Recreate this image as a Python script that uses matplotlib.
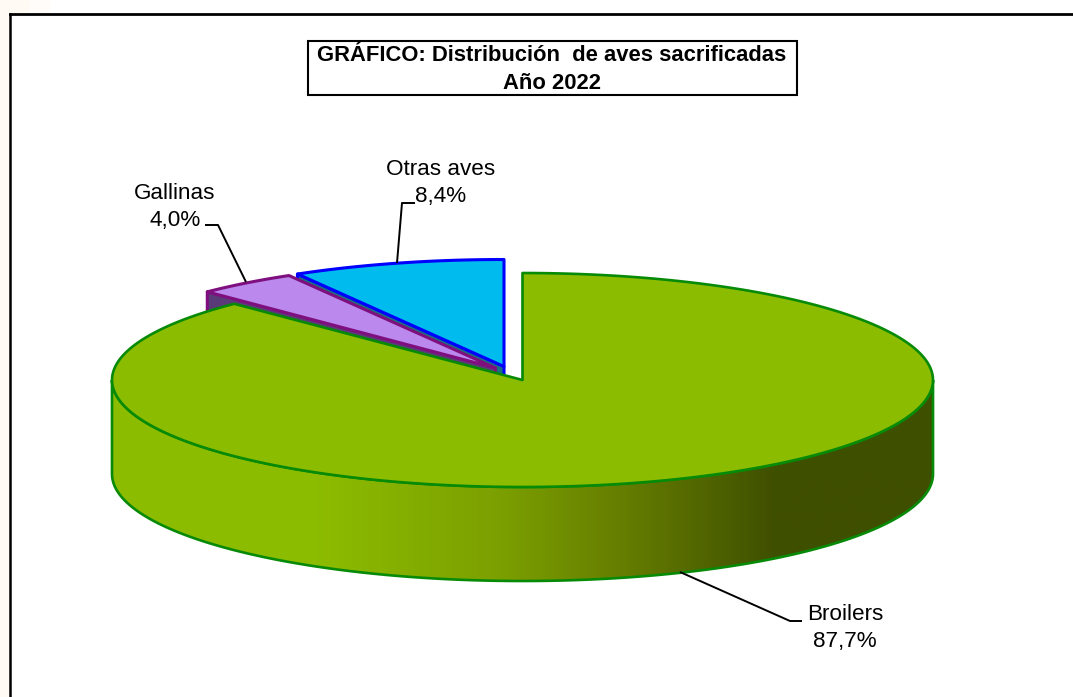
import numpy as np
import matplotlib
matplotlib.use("Agg")
import matplotlib.pyplot as plt
from matplotlib.colors import LinearSegmentedColormap
from matplotlib.patches import Polygon, Rectangle

plt.rcParams['font.family'] = ['Liberation Sans', 'DejaVu Sans']

categorias = ["Broilers", "Gallinas", "Otras aves"]
valores = [87.7, 4.0, 8.4]
etiquetas = ["87,7%", "4,0%", "8,4%"]

# pie geometry in pixels of the picture
rx, ry, prof = 410.5, 107, 94
centros = [(522.5, 380), (495.5, 368), (504, 366.5)]
tapas = ["#8CBC00", "#BB88EE", "#00BBEE"]
bordes = ["#078A07", "#7F0F7F", "#0000FF"]
lados = ["#3F4F00", "#5A3A78", "#1A6F80"]
anchos = [1.9, 2.2, 2.2]

# leader lines: label anchor, elbow, pie edge
lineas = {
    "Broilers": [(802, 621), (790, 621), (680, 572)],
    "Gallinas": [(205, 225), (218, 225), (246, 282)],
    "Otras aves": [(415, 203), (402, 203), (397, 263)],
}
pos_texto = {"Broilers": (845, 628), "Gallinas": (175, 207), "Otras aves": (441, 183)}

fig = plt.figure(figsize=(10.73, 6.97), dpi=100, facecolor="white")
ax = fig.add_axes([0, 0, 1, 1])


def arco(c, a0, a1, dy=0):
    t = np.radians(np.linspace(a0, a1, 200))
    return np.column_stack([c[0] + rx * np.sin(t), c[1] - ry * np.cos(t) + dy])


# background strips outside the frame
ax.add_patch(Rectangle((0, 0), 10, 697, fc="#FFFAF4", ec="none"))
ax.add_patch(Rectangle((0, 0), 30, 14, fc="#FFFAF4", ec="none"))
ax.add_patch(Rectangle((30, 0), 20, 14, fc="#FFFCF9", ec="none"))
ax.plot([10, 10], [697, 14], color="black", lw=1.8, solid_capstyle="projecting")
ax.plot([10, 1073], [14, 14], color="black", lw=2, solid_capstyle="projecting")

angulos = np.cumsum([0] + valores) / sum(valores) * 360

# slices drawn back to front
for i in [2, 1, 0]:
    a0, a1 = angulos[i], angulos[i + 1]
    c = centros[i]
    if i > 0:
        # cut face that looks to the lower left
        p = np.array(arco(c, a0, a0, 0)[0])
        cara = [c, p, (p[0], p[1] + prof), (c[0], c[1] + prof)]
        ax.add_patch(Polygon(cara, closed=True, fc=lados[i], ec=bordes[i], lw=anchos[i], joinstyle="round"))
    else:
        # front wall with the horizontal shading
        arriba = arco(c, 90, 270)
        abajo = arco(c, 270, 90, prof)
        pared = Polygon(np.vstack([arriba, abajo]), closed=True, fc="none", ec=bordes[i], lw=anchos[i])
        ax.add_patch(pared)
        cmap = LinearSegmentedColormap.from_list(
            "pared", [(0, "#8CBC00"), (0.25, "#8CBC00"), (0.47, "#7CA000"), (0.62, "#667E00"),
                      (0.81, "#3F4F00"), (1, "#3F4F00")])
        img = ax.imshow(np.linspace(0, 1, 512).reshape(1, -1), cmap=cmap, aspect="auto",
                        extent=(c[0] - rx, c[0] + rx, c[1] + ry + prof + 5, c[1] - 5), zorder=1)
        img.set_clip_path(pared)
        pared.set_zorder(1.5)
    tapa = np.vstack([[c], arco(c, a0, a1)])
    ax.add_patch(Polygon(tapa, closed=True, fc=tapas[i], ec=bordes[i], lw=anchos[i], joinstyle="round", zorder=2))

for n, cat in enumerate(categorias):
    xs, ys = zip(*lineas[cat])
    ax.plot(xs, ys, color="black", lw=1.4, zorder=3, solid_capstyle="butt")
    ax.text(*pos_texto[cat], f"{cat}\n{etiquetas[n]}", ha="center", va="center", fontsize=16.2,
            color="black", linespacing=1.33, zorder=4)

# title box
ax.add_patch(Rectangle((308, 41), 489, 54, fc="white", ec="black", lw=1.5, zorder=4))
ax.text(552, 69.5, "GRÁFICO: Distribución  de aves sacrificadas\nAño 2022", ha="center", va="center",
        fontsize=15.8, fontweight="bold", linespacing=1.43, zorder=5)

ax.set_xlim(0, 1073)
ax.set_ylim(697, 0)
ax.axis("off")

fig.savefig("out.png", dpi=100, facecolor="white")
